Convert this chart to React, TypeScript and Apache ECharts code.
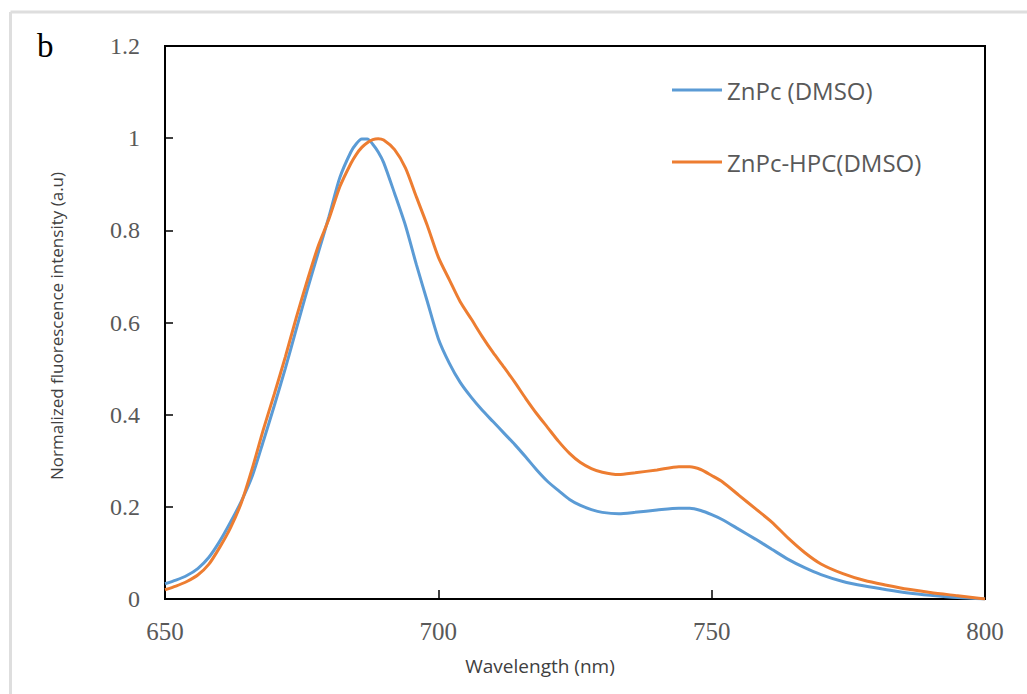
import React, { useEffect, useRef } from "react";
import * as echarts from "echarts";

const wavelengths = [650, 652, 654, 656, 658, 660, 662, 664, 666, 668, 670, 672, 674, 676, 678, 680, 682, 684, 685, 686, 687, 688, 689, 690, 692, 694, 696, 698, 700, 702, 704, 706, 708, 710, 712, 714, 716, 718, 720, 722, 724, 726, 728, 730, 733, 736, 740, 744, 746, 748, 750, 752, 755, 758, 761, 764, 767, 770, 774, 778, 782, 786, 790, 795, 800];

const znpcDmso = [0.033, 0.041, 0.051, 0.066, 0.09, 0.125, 0.167, 0.213, 0.268, 0.343, 0.42, 0.5, 0.585, 0.67, 0.75, 0.83, 0.915, 0.97, 0.988, 0.998, 0.998, 0.987, 0.97, 0.947, 0.88, 0.81, 0.725, 0.645, 0.565, 0.512, 0.47, 0.438, 0.41, 0.385, 0.36, 0.335, 0.308, 0.28, 0.255, 0.235, 0.216, 0.203, 0.194, 0.188, 0.185, 0.188, 0.193, 0.197, 0.197, 0.192, 0.183, 0.172, 0.151, 0.13, 0.108, 0.086, 0.068, 0.053, 0.038, 0.028, 0.02, 0.013, 0.008, 0.003, 0.0];

const znpcHpcDmso = [0.02, 0.028, 0.038, 0.052, 0.075, 0.112, 0.155, 0.21, 0.285, 0.368, 0.445, 0.525, 0.61, 0.69, 0.765, 0.825, 0.895, 0.945, 0.965, 0.98, 0.99, 0.997, 0.999, 0.996, 0.975, 0.935, 0.872, 0.81, 0.742, 0.693, 0.645, 0.608, 0.57, 0.535, 0.503, 0.47, 0.435, 0.402, 0.372, 0.342, 0.316, 0.296, 0.283, 0.275, 0.27, 0.274, 0.28, 0.287, 0.287, 0.281, 0.268, 0.254, 0.225, 0.196, 0.167, 0.132, 0.101, 0.076, 0.055, 0.04, 0.03, 0.021, 0.014, 0.007, 0.0];

const seriesNames = ["ZnPc (DMSO)", "ZnPc-HPC(DMSO)"];
const seriesColors = ["#5B9BD5", "#ED7D31"];

export default function App() {
  const ref = useRef<HTMLDivElement>(null);
  useEffect(() => {
    if (!ref.current) return;
    const chart = echarts.init(ref.current, undefined, { renderer: "svg" });
    const toPairs = (ys: number[]) => wavelengths.map((x, i) => [x, ys[i]]);
    chart.setOption({
      animation: false,
      backgroundColor: "#ffffff",
      grid: {
        left: 165,
        top: 46,
        right: 42,
        bottom: 95,
        show: true,
        borderColor: "#000000",
        borderWidth: 2,
        backgroundColor: "transparent",
      },
      legend: {
        orient: "vertical",
        left: 667,
        top: 70,
        itemWidth: 50,
        itemHeight: 3,
        itemGap: 42,
        icon: "rect",
        data: seriesNames,
        textStyle: {
          fontFamily: "Open Sans",
          fontSize: 24,
          lineHeight: 30,
          color: "#595959",
        },
      },
      xAxis: {
        type: "value",
        min: 650,
        max: 800,
        interval: 50,
        axisLine: { show: true, lineStyle: { color: "#000", width: 2 } },
        axisTick: { show: true, inside: true, length: 9, lineStyle: { color: "#000", width: 1.5 } },
        splitLine: { show: false },
        axisLabel: {
          margin: 20,
          fontFamily: "Liberation Serif",
          fontSize: 25,
          color: "#595959",
        },
      },
      yAxis: {
        type: "value",
        min: 0,
        max: 1.2,
        interval: 0.2,
        axisLine: { show: true, lineStyle: { color: "#000", width: 2 } },
        axisTick: { show: true, inside: true, length: 8, lineStyle: { color: "#000", width: 1.5 } },
        splitLine: { show: false },
        axisLabel: {
          margin: 25,
          fontFamily: "Liberation Serif",
          fontSize: 24,
          color: "#595959",
        },
      },
      graphic: [
        {
          type: "line",
          shape: { x1: 10.5, y1: 12, x2: 1027, y2: 12 },
          style: { stroke: "#dedede", lineWidth: 3 },
        },
        {
          type: "line",
          shape: { x1: 10.5, y1: 12, x2: 10.5, y2: 694 },
          style: { stroke: "#dedede", lineWidth: 3 },
        },
        {
          type: "text",
          x: 37,
          y: 62,
          style: {
            text: "b",
            fontFamily: "Liberation Serif",
            fontSize: 33,
            fill: "#000",
            textAlign: "left",
            textVerticalAlign: "bottom",
          },
        },
        {
          type: "text",
          x: 56,
          y: 480,
          rotation: Math.PI / 2,
          style: {
            text: "Normalized fluorescence intensity (a.u)",
            fontFamily: "Open Sans",
            fontSize: 17,
            fill: "#404040",
            textAlign: "left",
            textVerticalAlign: "middle",
          },
        },
        {
          type: "text",
          x: 540,
          y: 666,
          style: {
            text: "Wavelength (nm)",
            fontFamily: "Open Sans",
            fontSize: 19,
            fill: "#404040",
            textAlign: "center",
            textVerticalAlign: "middle",
          },
        },
      ],
      series: [
        {
          name: seriesNames[0],
          type: "line",
          data: toPairs(znpcDmso),
          showSymbol: false,
          smooth: 0.25,
          color: seriesColors[0],
          lineStyle: { width: 3, color: seriesColors[0] },
          z: 2,
        },
        {
          name: seriesNames[1],
          type: "line",
          data: toPairs(znpcHpcDmso),
          showSymbol: false,
          smooth: 0.25,
          color: seriesColors[1],
          lineStyle: { width: 3, color: seriesColors[1] },
          z: 3,
        },
      ],
    });
    return () => chart.dispose();
  }, []);
  return (
    <div
      ref={ref}
      style={{ position: "fixed", left: 0, top: 0, width: 1027, height: 694 }}
    />
  );
}
